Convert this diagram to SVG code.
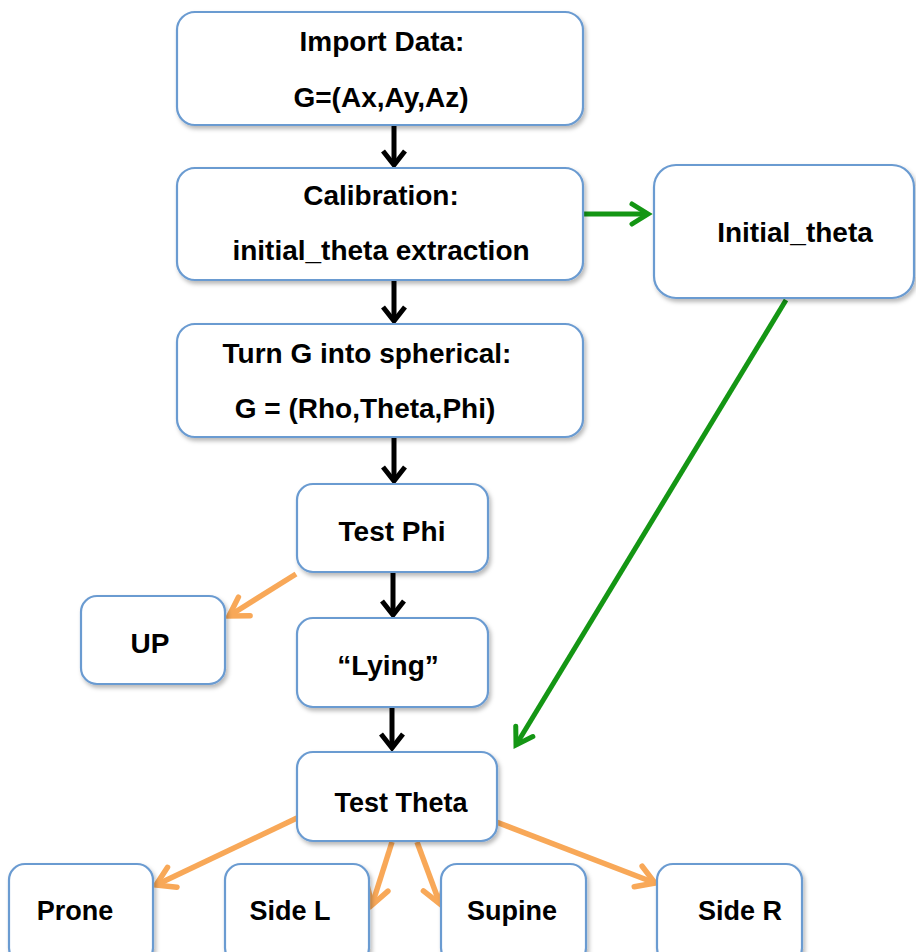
<svg xmlns="http://www.w3.org/2000/svg" width="916" height="952" viewBox="0 0 916 952">
<style>
.box{fill:#fff;stroke:#6b9bd1;stroke-width:2.2;filter:url(#sh)}
.t{font-family:"Liberation Sans",Arial,sans-serif;font-weight:bold;font-size:28px;fill:#000;text-anchor:middle}
.s{font-size:27px}
.blk{stroke:#000;stroke-width:5;fill:none;marker-end:url(#mb)}
.grn{stroke:#149614;stroke-width:5;fill:none;marker-end:url(#mg)}
.org{stroke:#f8a858;stroke-width:5.5;fill:none;marker-end:url(#mo)}
</style>
<defs>
<filter id="sh" x="-10%" y="-10%" width="130%" height="130%">
<feDropShadow dx="2" dy="3" stdDeviation="2" flood-color="#000" flood-opacity="0.28"/>
</filter>
<marker id="mb" markerUnits="userSpaceOnUse" markerWidth="40" markerHeight="40" viewBox="-20 -20 40 40" refX="0" refY="0" orient="auto" overflow="visible">
<path d="M-14,-11 L0,0 L-14,11" fill="none" stroke="#000" stroke-width="5"/>
</marker>
<marker id="mg" markerUnits="userSpaceOnUse" markerWidth="40" markerHeight="40" viewBox="-20 -20 40 40" refX="0" refY="0" orient="auto" overflow="visible">
<path d="M-16,-10 L0,0 L-16,10" fill="none" stroke="#149614" stroke-width="5" stroke-linecap="round"/>
</marker>
<marker id="mo" markerUnits="userSpaceOnUse" markerWidth="40" markerHeight="40" viewBox="-20 -20 40 40" refX="0" refY="0" orient="auto" overflow="visible">
<path d="M-18,-11 L0,0 L-18,11" fill="none" stroke="#f8a858" stroke-width="5.5" stroke-linecap="round"/>
</marker>
</defs>

<g id="connectors">
<line class="blk" x1="394" y1="126" x2="394" y2="165"/>
<line class="blk" x1="394" y1="281" x2="394" y2="321"/>
<line class="blk" x1="394" y1="438" x2="394" y2="481"/>
<line class="blk" x1="393" y1="573" x2="393" y2="615"/>
<line class="blk" x1="392" y1="708" x2="392" y2="748"/>
<line class="grn" x1="584" y1="214" x2="648" y2="214"/>
<line class="grn" x1="786" y1="300" x2="516" y2="745"/>
<line class="org" x1="296" y1="574" x2="229" y2="616"/>
<line class="org" x1="297" y1="818" x2="156" y2="885"/>
<line class="org" x1="392" y1="842" x2="372" y2="905"/>
<line class="org" x1="417" y1="842" x2="440" y2="904"/>
<line class="org" x1="491" y1="820" x2="655" y2="883"/>
</g>

<g id="import">
<rect class="box" x="177" y="12" width="406" height="113" rx="18"/>
<text class="t" x="382" y="51">Import Data:</text>
<text class="t" x="381" y="107">G=(Ax,Ay,Az)</text>
</g>
<g id="calibration">
<rect class="box" x="177" y="168" width="406" height="112" rx="18"/>
<text class="t" x="381" y="205">Calibration:</text>
<text class="t" x="381" y="260">initial_theta extraction</text>
</g>
<g id="initial_theta">
<rect class="box" x="654" y="165" width="260" height="133" rx="22"/>
<text class="t" x="795" y="242">Initial_theta</text>
</g>
<g id="spherical">
<rect class="box" x="177" y="324" width="406" height="113" rx="18"/>
<text class="t" x="367" y="363">Turn G into spherical:</text>
<text class="t" x="365" y="418">G = (Rho,Theta,Phi)</text>
</g>
<g id="test_phi">
<rect class="box" x="297" y="484" width="191" height="88" rx="16"/>
<text class="t" x="392" y="541">Test Phi</text>
</g>
<g id="up">
<rect class="box" x="81" y="596" width="144" height="88" rx="16"/>
<text class="t" x="150" y="653">UP</text>
</g>
<g id="lying">
<rect class="box" x="297" y="618" width="191" height="89" rx="16"/>
<text class="t" x="388" y="675">“Lying”</text>
</g>
<g id="test_theta">
<rect class="box" x="297" y="752" width="200" height="89" rx="16"/>
<text class="t s" x="401" y="812">Test Theta</text>
</g>
<g id="prone">
<rect class="box" x="9" y="864" width="144" height="100" rx="16"/>
<text class="t s" x="75" y="920">Prone</text>
</g>
<g id="side_l">
<rect class="box" x="225" y="864" width="144" height="100" rx="16"/>
<text class="t s" x="290" y="920">Side L</text>
</g>
<g id="supine">
<rect class="box" x="441" y="864" width="145" height="100" rx="16"/>
<text class="t s" x="512" y="920">Supine</text>
</g>
<g id="side_r">
<rect class="box" x="657" y="864" width="145" height="100" rx="16"/>
<text class="t s" x="740" y="920">Side R</text>
</g>
</svg>
